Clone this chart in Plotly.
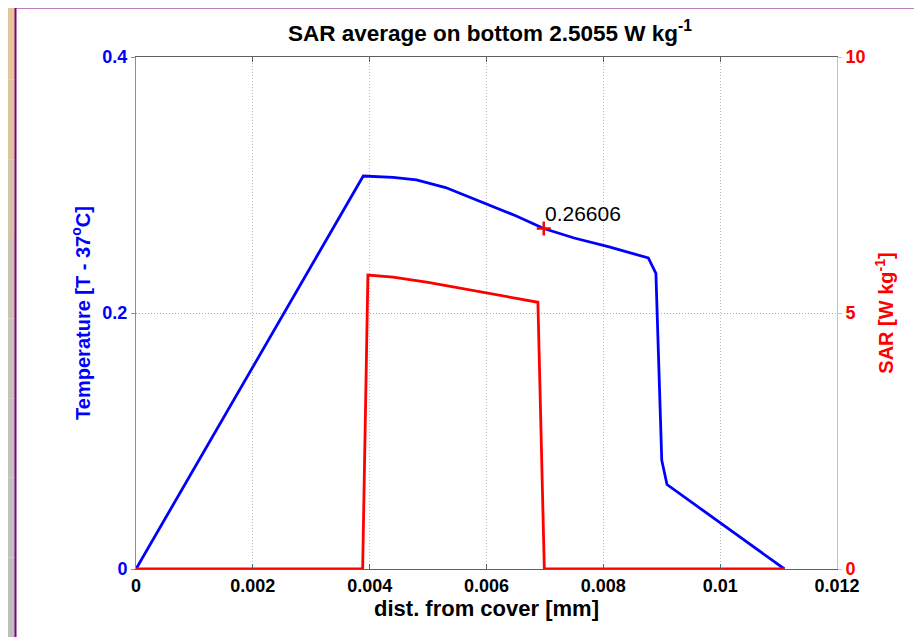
import plotly.graph_objects as go

# ---- data ----
x_ticks = [0, 0.002, 0.004, 0.006, 0.008, 0.01, 0.012]
x_tick_labels = ["0", "0.002", "0.004", "0.006", "0.008", "0.01", "0.012"]
temp_ticks = [0, 0.2, 0.4]
temp_tick_labels = ["0", "0.2", "0.4"]
sar_ticks = [0, 5, 10]
sar_tick_labels = ["0", "5", "10"]

temp_x = [0, 0.00389, 0.0044, 0.0048, 0.0053, 0.0059, 0.0065, 0.00698,
          0.0075, 0.0081, 0.00877, 0.0089, 0.0090, 0.00909, 0.0111]
temp_y = [0, 0.307, 0.306, 0.304, 0.298, 0.287, 0.276, 0.266,
          0.2586, 0.2516, 0.243, 0.231, 0.085, 0.066, 0]

sar_x = [0, 0.00388, 0.00397, 0.0044, 0.0050, 0.0056, 0.0062, 0.00688, 0.00699, 0.0111]
sar_y = [0, 0, 5.74, 5.70, 5.60, 5.48, 5.36, 5.21, 0, 0]

marker_x = [0.00698]
marker_y = [0.26606]
marker_label = "0.26606"

title_text = "<b>SAR average on bottom 2.5055 W kg<sup>-1</sup></b>"

# ---- figure geometry (page pixels; the page body adds an 8px offset) ----
OFF = 8
W, H = 922 - OFF, 637 - OFF
L, R, T, B = 136 - OFF, 837 - OFF, 57 - OFF, 569 - OFF


def px_x(page_px):
    return (page_px - OFF - L) / (R - L)


def px_y(page_py):
    return (B - (page_py - OFF)) / (B - T)


fig = go.Figure()
fig.add_trace(go.Scatter(x=temp_x, y=temp_y, mode="lines",
                         line=dict(color="#0000ff", width=2.8), yaxis="y", showlegend=False))
fig.add_trace(go.Scatter(x=sar_x, y=sar_y, mode="lines",
                         line=dict(color="#ff0000", width=2.8), yaxis="y2", showlegend=False))
fig.add_trace(go.Scatter(x=marker_x, y=marker_y, mode="markers",
                         marker=dict(symbol="cross-thin", size=10, line=dict(color="#ff0000", width=2.5)),
                         yaxis="y", showlegend=False))

font_main = "Liberation Sans, Arial, sans-serif"

# background frame decoration
shapes = []
left_cols = ["#e4c699", "#dcc49f", "#d4c3a8", "#cdc2b1", "#c7c1b8", "#c3c0bd", "#c0c0c0", "#bebebe"]
n = len(left_cols)
for i, c in enumerate(left_cols):
    shapes.append(dict(type="rect", xref="paper", yref="paper",
                       x0=px_x(0), x1=px_x(15), y0=px_y(i * 637 / n), y1=px_y((i + 1) * 637 / n),
                       fillcolor=c, line=dict(width=0), layer="below"))
top_cols = ["#e4c699", "#dcc6a5", "#d5c6af", "#cfc6b8", "#cbc7c0", "#c8c8c6", "#c6c6c6", "#c4c4c4"]
n = len(top_cols)
for i, c in enumerate(top_cols):
    shapes.append(dict(type="rect", xref="paper", yref="paper",
                       x0=px_x(i * 922 / n), x1=px_x((i + 1) * 922 / n), y0=px_y(0), y1=px_y(7),
                       fillcolor=c, line=dict(width=0), layer="below"))
shapes.append(dict(type="rect", xref="paper", yref="paper",
                   x0=px_x(920), x1=px_x(922), y0=px_y(0), y1=px_y(637),
                   fillcolor="#c4c4c4", line=dict(width=0), layer="below"))
# purple border lines
shapes.append(dict(type="line", xref="paper", yref="paper",
                   x0=px_x(15.5), x1=px_x(15.5), y0=px_y(7), y1=px_y(637),
                   line=dict(color="#800080", width=2), layer="below"))
shapes.append(dict(type="line", xref="paper", yref="paper",
                   x0=px_x(15), x1=px_x(920), y0=px_y(7.5), y1=px_y(7.5),
                   line=dict(color="#800080", width=2), layer="below"))
shapes.append(dict(type="line", xref="paper", yref="paper",
                   x0=px_x(919.5), x1=px_x(919.5), y0=px_y(7), y1=px_y(637),
                   line=dict(color="#800080", width=2), layer="below"))

fig.update_layout(
    width=W, height=H,
    margin=dict(l=L, r=W - R, t=T, b=H - B, pad=0),
    paper_bgcolor="white", plot_bgcolor="white",
    title=dict(text=title_text, x=(490 - OFF) / W, xanchor="center",
               y=1 - (33 - OFF) / H, yanchor="middle",
               font=dict(family=font_main, size=22.5, color="#000000")),
    xaxis=dict(range=[0, 0.012], tickvals=x_ticks, ticktext=x_tick_labels,
               ticks="inside", ticklen=5, tickcolor="#606060",
               showline=True, linecolor="#606060", linewidth=1, mirror="ticks",
               showgrid=True, gridcolor="#bcbcbc", griddash="1px,2px", gridwidth=1,
               zeroline=False,
               tickfont=dict(family=font_main, size=18, color="#000000", weight="bold"),
               title=dict(text="<b>dist. from cover [mm]</b>", standoff=3,
                          font=dict(family=font_main, size=22, color="#000000"))),
    yaxis=dict(range=[0, 0.4], tickvals=temp_ticks, ticktext=temp_tick_labels,
               ticks="outside", ticklen=4, tickcolor="#8080ff",
               showline=True, linecolor="#8080ff", linewidth=1,
               showgrid=True, gridcolor="#9c9cff", griddash="1px,2px", gridwidth=1,
               zeroline=False,
               tickfont=dict(family=font_main, size=18, color="#0000ff", weight="bold"),
               title=dict(text="<b>Temperature [T - 37<sup>o</sup>C]</b>", standoff=6,
                          font=dict(family=font_main, size=20, color="#0000ff"))),
    yaxis2=dict(range=[0, 10], tickvals=sar_ticks, ticktext=sar_tick_labels,
                overlaying="y", side="right", anchor="x",
                ticks="outside", ticklen=4, tickcolor="#ffaaaa",
                showline=True, linecolor="#ffaaaa", linewidth=1,
                showgrid=False, zeroline=False,
                tickfont=dict(family=font_main, size=18, color="#ff0000", weight="bold"),
                title=dict(text="<b>SAR [W kg<sup>-1</sup>]</b>", standoff=14,
                           font=dict(family=font_main, size=20, color="#ff0000"))),
    shapes=shapes,
    annotations=[dict(x=marker_x[0], y=marker_y[0], xref="x", yref="y",
                      text=marker_label, showarrow=False, xanchor="left", yanchor="bottom",
                      xshift=-1, yshift=1,
                      font=dict(family=font_main, size=21, color="#000000"))],
)

fig.write_html("out.html")
